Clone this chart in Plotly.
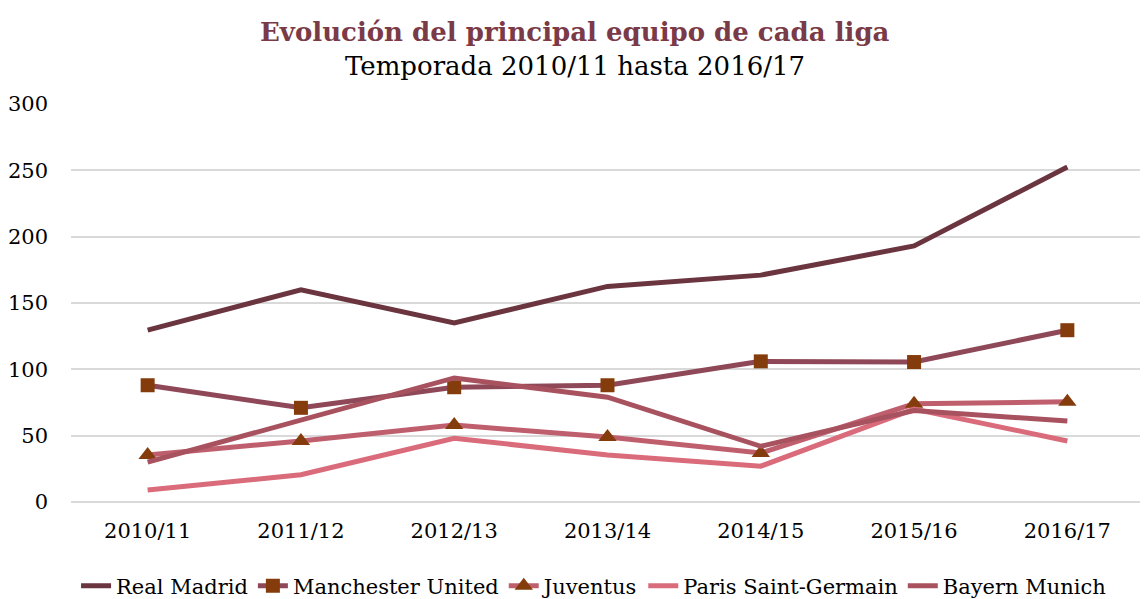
import plotly.graph_objects as go

seasons = ["2010/11", "2011/12", "2012/13", "2013/14", "2014/15", "2015/16", "2016/17"]
real_madrid = [129.5, 160, 135, 162.5, 171, 193, 252.5]
man_united = [88, 71, 86.5, 88, 106, 105.5, 129.5]
juventus = [35.5, 46, 58, 49, 37, 74, 75.5]
psg = [9, 20.5, 48, 35.5, 27, 70, 46]
bayern = [30, 62, 93.5, 79, 42, 69, 61]

FONT = "DejaVu Serif"
marker_col = "#843C0C"

fig = go.Figure()
fig.add_trace(go.Scatter(x=seasons, y=real_madrid, name="Real Madrid", mode="lines",
                         line=dict(color="#6B3540", width=5)))
fig.add_trace(go.Scatter(x=seasons, y=man_united, name="Manchester United", mode="lines+markers",
                         line=dict(color="#8E4858", width=5),
                         marker=dict(symbol="square", size=14, color=marker_col)))
fig.add_trace(go.Scatter(x=seasons, y=juventus, name="Juventus", mode="lines+markers",
                         line=dict(color="#BF5F6E", width=5),
                         marker=dict(symbol="triangle-up", size=16, color=marker_col)))
fig.add_trace(go.Scatter(x=seasons, y=psg, name="Paris Saint-Germain", mode="lines",
                         line=dict(color="#D96B7B", width=5)))
fig.add_trace(go.Scatter(x=seasons, y=bayern, name="Bayern Munich", mode="lines",
                         line=dict(color="#A8525F", width=5)))

fig.update_layout(
    width=1140, height=591,
    margin=dict(l=63, r=4, t=96, b=97, autoexpand=False),
    plot_bgcolor="white", paper_bgcolor="white",
    font=dict(family=FONT, size=21, color="black"),
    showlegend=True,
    legend=dict(orientation="h", x=0.487, xanchor="center", y=-0.211, yanchor="middle",
                font=dict(family=FONT, size=21, color="black"), itemwidth=30,
                tracegroupgap=0),
    xaxis=dict(type="category", range=[-0.5, 6.5], showgrid=False, showline=False, ticks="",
               ticklabelstandoff=14,
               tickfont=dict(family=FONT, size=21, color="black")),
    yaxis=dict(range=[0, 300], dtick=50, showgrid=True, gridcolor="#D9D9D9", gridwidth=1.5,
               zeroline=True, zerolinecolor="#D9D9D9", zerolinewidth=1.5,
               showline=False, ticks="", ticklabelstandoff=22,
               tickfont=dict(family=FONT, size=21, color="black")),
    annotations=[
        dict(text="<b>Evolución del principal equipo de cada liga</b>", xref="paper", yref="paper",
             x=0.47, y=1.0, yanchor="middle", showarrow=False, yshift=72,
             font=dict(family=FONT, size=26, color="#7B3A47")),
        dict(text="Temporada 2010/11 hasta 2016/17", xref="paper", yref="paper",
             x=0.47, y=1.0, yanchor="middle", showarrow=False, yshift=38,
             font=dict(family=FONT, size=26, color="black")),
    ],
)

fig.write_html("out.html")
